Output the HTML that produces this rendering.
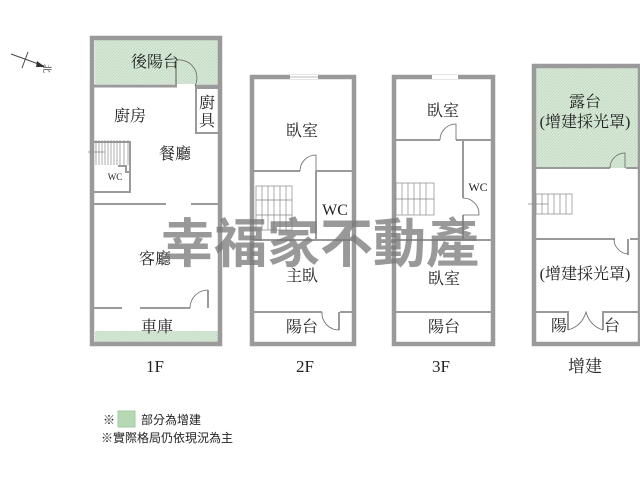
<!DOCTYPE html>
<html><head><meta charset="utf-8"><style>
html,body{margin:0;padding:0;background:#fff}
svg{display:block}
text{font-family:"Liberation Serif","Noto Serif CJK SC","Noto Sans CJK TC",serif;fill:#222}
text.wm{font-family:"Noto Sans CJK TC","Noto Sans CJK SC",sans-serif;fill:#777;fill-opacity:0.75;font-weight:bold}
text.lg{font-family:"Liberation Sans","Noto Sans CJK TC",sans-serif}
</style></head><body>
<svg width="640" height="480" viewBox="0 0 640 480" xmlns="http://www.w3.org/2000/svg">
<defs>
<pattern id="g" width="3" height="3" patternUnits="userSpaceOnUse"><rect width="3" height="3" fill="#d6e8d6"/><path d="M0 3L3 0" stroke="#bcd4bc" stroke-width="0.6"/></pattern>
</defs>
<g stroke="#9a9a9a" fill="none">
<line x1="11" y1="54" x2="44" y2="66" stroke="#444" stroke-width="1"/>
<line x1="28" y1="52" x2="22" y2="68" stroke="#444" stroke-width="1"/>
<polygon points="45,67 37,61 36,67" fill="#333" stroke="none"/>

<!-- 1F -->
<rect x="95" y="40" width="125" height="44" fill="url(#g)" stroke="none"/>
<rect x="95" y="331" width="125" height="13" fill="url(#g)" stroke="none"/>
<rect x="92" y="38" width="128" height="306" stroke-width="4.5"/>
<line x1="94" y1="86" x2="177" y2="86" stroke-width="3"/>
<line x1="195" y1="86" x2="220" y2="86" stroke-width="3"/>
<line x1="176" y1="60" x2="176" y2="86" stroke-width="2"/>
<path d="M177 60 A18 18 0 0 1 195 86" stroke="#666" stroke-width="0.8"/>
<rect x="196" y="88" width="23" height="45" stroke-width="2"/>
<path d="M94 142 H130 V172 M94 192 H130 V168 M118 166 H126 V172 H130" stroke-width="2"/>
<g stroke="#888" stroke-width="0.7"><line x1="96" y1="140" x2="96" y2="165"/><line x1="99" y1="140" x2="99" y2="165"/><line x1="102" y1="140" x2="102" y2="165"/><line x1="105" y1="140" x2="105" y2="165"/><line x1="108" y1="140" x2="108" y2="165"/><line x1="111" y1="140" x2="111" y2="165"/><line x1="114" y1="140" x2="114" y2="165"/><line x1="117" y1="140" x2="117" y2="165"/><line x1="120" y1="140" x2="120" y2="165"/><line x1="124" y1="140" x2="124" y2="165"/><line x1="128" y1="140" x2="128" y2="165"/><line x1="88" y1="152" x2="105" y2="152"/></g>
<line x1="94" y1="204" x2="166" y2="204" stroke-width="2"/>
<line x1="191" y1="204" x2="220" y2="204" stroke-width="2"/>
<line x1="94" y1="308" x2="122" y2="308" stroke-width="2"/>
<line x1="140" y1="308" x2="190" y2="308" stroke-width="2"/>
<line x1="208" y1="290" x2="208" y2="308" stroke-width="2"/>
<path d="M190 308 A18 18 0 0 1 208 290" stroke="#666" stroke-width="0.8"/>

<!-- 2F -->
<rect x="252" y="77" width="102" height="267" stroke-width="4.5"/>
<rect x="290" y="75" width="28" height="4" fill="#fff" stroke="none"/>
<line x1="290" y1="77" x2="318" y2="77" stroke="#bbb" stroke-width="1"/>
<line x1="254" y1="171" x2="300" y2="171" stroke-width="2"/>
<line x1="316" y1="171" x2="354" y2="171" stroke-width="2"/>
<path d="M300 171 A16 16 0 0 1 316 155 V171" stroke="#666" stroke-width="0.8"/>
<line x1="316" y1="171" x2="316" y2="240" stroke-width="2"/>
<line x1="254" y1="240" x2="354" y2="240" stroke-width="2"/>
<g stroke="#888" stroke-width="0.7"><rect x="256" y="186" width="36" height="44"/><line x1="262" y1="186" x2="262" y2="230"/><line x1="268" y1="186" x2="268" y2="230"/><line x1="274" y1="186" x2="274" y2="230"/><line x1="280" y1="186" x2="280" y2="230"/><line x1="286" y1="186" x2="286" y2="230"/><line x1="256" y1="200" x2="292" y2="200"/><line x1="256" y1="215" x2="292" y2="215"/></g>
<line x1="254" y1="312" x2="322" y2="312" stroke-width="2"/>
<line x1="340" y1="312" x2="354" y2="312" stroke-width="2"/>
<line x1="339" y1="312" x2="339" y2="330" stroke-width="2"/>
<path d="M322 312 A17 17 0 0 0 339 330" stroke="#666" stroke-width="0.8"/>

<!-- 3F -->
<rect x="394" y="77" width="99" height="267" stroke-width="4.5"/>
<rect x="432" y="75" width="26" height="4" fill="#fff" stroke="none"/>
<line x1="396" y1="140" x2="440" y2="140" stroke-width="2"/>
<line x1="456" y1="140" x2="493" y2="140" stroke-width="2"/>
<path d="M440 140 A16 16 0 0 1 456 124 V140" stroke="#666" stroke-width="0.8"/>
<line x1="463" y1="140" x2="463" y2="198" stroke-width="2"/>
<line x1="463" y1="215" x2="463" y2="240" stroke-width="2"/>
<path d="M463 198 A16 16 0 0 1 479 215 H463" stroke="#666" stroke-width="0.8"/>
<line x1="396" y1="240" x2="493" y2="240" stroke-width="2"/>
<g stroke="#888" stroke-width="0.7"><rect x="396" y="183" width="38" height="32"/><line x1="402" y1="183" x2="402" y2="215"/><line x1="408" y1="183" x2="408" y2="215"/><line x1="414" y1="183" x2="414" y2="215"/><line x1="420" y1="183" x2="420" y2="215"/><line x1="426" y1="183" x2="426" y2="215"/><line x1="396" y1="199" x2="434" y2="199"/></g>
<line x1="396" y1="312" x2="493" y2="312" stroke-width="2"/>

<!-- 增建 -->
<rect x="536" y="68" width="102" height="100" fill="url(#g)" stroke="none"/>
<rect x="534" y="66" width="106" height="278" stroke-width="4.5"/>
<line x1="536" y1="168" x2="610" y2="168" stroke-width="2"/>
<line x1="626" y1="168" x2="638" y2="168" stroke-width="2"/>
<path d="M610 168 A15 15 0 0 1 625 153 V168" stroke="#666" stroke-width="0.8"/>
<g stroke="#888" stroke-width="0.7"><rect x="536" y="194" width="36" height="20"/><line x1="542" y1="194" x2="542" y2="214"/><line x1="548" y1="194" x2="548" y2="214"/><line x1="554" y1="194" x2="554" y2="214"/><line x1="560" y1="194" x2="560" y2="214"/><line x1="566" y1="194" x2="566" y2="214"/><line x1="528" y1="204" x2="548" y2="204"/></g>
<line x1="536" y1="239" x2="615" y2="239" stroke-width="2"/>
<line x1="630" y1="239" x2="638" y2="239" stroke-width="2"/>
<line x1="628" y1="239" x2="628" y2="255" stroke-width="2"/>
<path d="M614 239 A15 15 0 0 0 628 254" stroke="#666" stroke-width="0.8"/>
<path d="M536 312 H568 V330 M638 312 H603 V330" stroke-width="2"/>
<path d="M568 330 Q582 326 586 312 Q590 326 603 330" stroke="#666" stroke-width="0.8"/>

<rect x="118" y="411" width="17" height="16" fill="#b6d9b4" stroke="#a8c8a6" stroke-width="1"/>
</g>

<g font-size="16">
<text x="155" y="67" text-anchor="middle">後陽台</text>
<text x="130" y="121" text-anchor="middle">廚房</text>
<text x="207" y="108" text-anchor="middle">廚</text>
<text x="207" y="126" text-anchor="middle">具</text>
<text x="175" y="159" text-anchor="middle">餐廳</text>
<text x="115" y="180" text-anchor="middle" font-size="9">WC</text>
<text x="155" y="264" text-anchor="middle">客廳</text>
<text x="157" y="332" text-anchor="middle">車庫</text>
<text x="302" y="136" text-anchor="middle">臥室</text>
<text x="335" y="215" text-anchor="middle">WC</text>
<text x="302" y="281" text-anchor="middle">主臥</text>
<text x="302" y="332" text-anchor="middle">陽台</text>
<text x="443" y="116" text-anchor="middle">臥室</text>
<text x="478" y="191" text-anchor="middle" font-size="12">WC</text>
<text x="444" y="284" text-anchor="middle">臥室</text>
<text x="444" y="332" text-anchor="middle">陽台</text>
<text x="585" y="107" text-anchor="middle">露台</text>
<text x="585" y="127" text-anchor="middle">(增建採光罩)</text>
<text x="585" y="279" text-anchor="middle">(增建採光罩)</text>
<text x="559" y="331" text-anchor="middle">陽</text>
<text x="612" y="331" text-anchor="middle">台</text>
<text x="155" y="372" text-anchor="middle" font-size="17">1F</text>
<text x="305" y="372" text-anchor="middle" font-size="17">2F</text>
<text x="441" y="372" text-anchor="middle" font-size="17">3F</text>
<text x="585" y="372" text-anchor="middle" font-size="17">增建</text>
</g>
<text x="44" y="72" font-size="9" transform="rotate(90 48 68)">北</text>
<g font-size="12">
<text class="lg" x="103" y="424">※</text>
<text class="lg" x="141" y="424">部分為增建</text>
<text class="lg" x="101" y="442">※實際格局仍依現況為主</text>
</g>
<text class="wm" x="161" y="262" font-size="53" letter-spacing="0">幸福家不動產</text>
</svg>
</body></html>
